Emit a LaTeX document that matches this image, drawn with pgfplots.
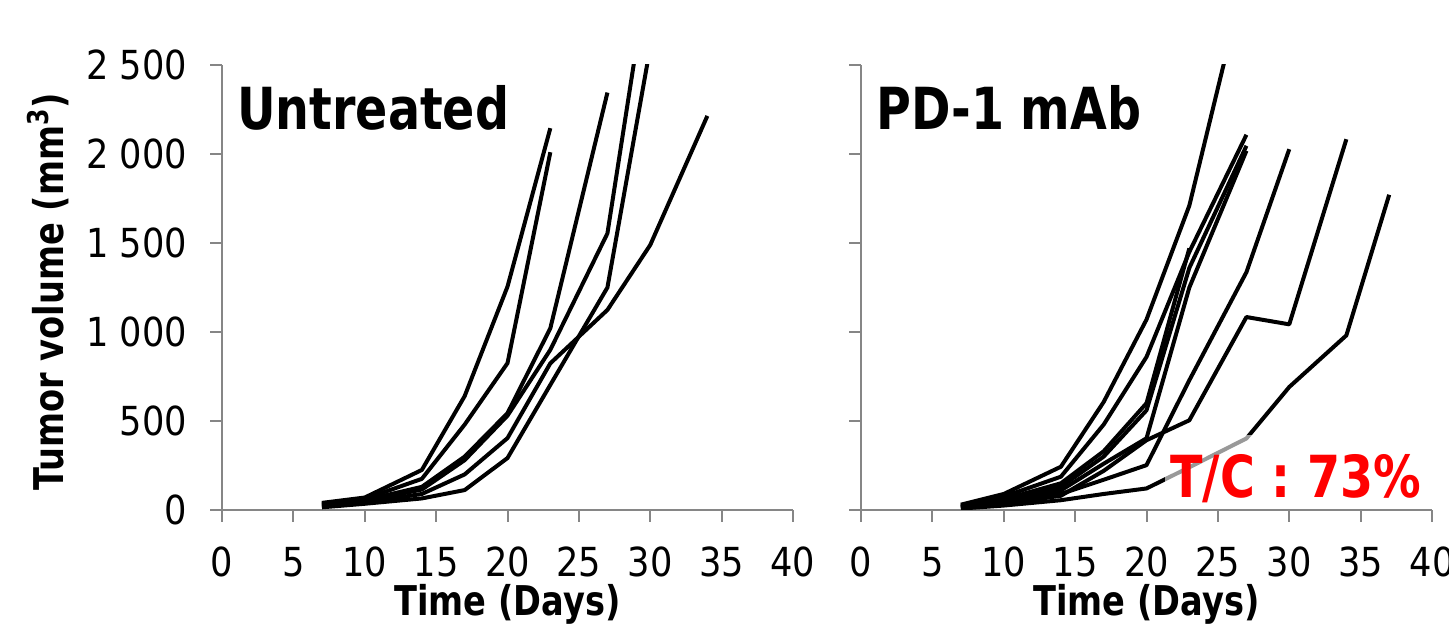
\documentclass[border=0pt]{standalone}
\usepackage{fontspec}
\setmainfont{DejaVu Sans}[FakeStretch=0.88, BoldFeatures={FakeStretch=0.82}]
\usepackage{pgfplots}
\pgfplotsset{compat=1.18}
\definecolor{axgray}{RGB}{134,134,134}
\definecolor{tcred}{RGB}{255,0,0}
\pgfplotsset{
  tumor/.style={
    scale only axis, width=285.5pt, height=222.5pt,
    xmin=0, xmax=40, ymin=0, ymax=2500,
    xtick={0,5,...,40}, ytick={0,500,...,2500},
    axis x line*=bottom, axis y line*=left,
    axis line style={-, axgray, line width=1pt},
    tick align=outside, major tick length=6pt,
    every tick/.style={axgray, line width=1pt},
    tick label style={font=\fontsize{20}{24}\selectfont, black},
    /pgf/number format/assume math mode=true,
    /pgf/number format/1000 sep={\ },
    scaled y ticks=false,
    xticklabel style={yshift=-9pt},
    yticklabel style={xshift=-8pt},
    xlabel={Time (Days)},
    xlabel style={font=\bfseries\fontsize{20.5}{24}\selectfont, at={(axis description cs:0.5,-0.212)}, anchor=center},
    cycle list={{black, solid}},
    every axis plot post/.append style={black, solid, line width=2pt, mark=none, line join=round},
  }
}
\begin{document}
\begin{tikzpicture}
\path[use as bounding box] (0,0) rectangle (724.5pt,315.5pt);
\begin{axis}[tumor, at={(111pt,60.5pt)}, anchor=south west,
  ylabel={Tumor volume (mm\textsuperscript{3})},
  ylabel style={font=\bfseries\fontsize{20.5}{24}\selectfont, at={(axis description cs:-0.304,0.49)}, anchor=center}]
\addplot coordinates {(7,40)(10,70)(14,225)(17,640)(20,1255)(23,2145)};
\addplot coordinates {(7,35)(10,62)(14,175)(17,480)(20,825)(23,2010)};
\addplot coordinates {(7,30)(10,55)(14,130)(17,300)(20,544)(23,1021)(27,2345)};
\addplot coordinates {(7,28)(10,50)(14,115)(17,280)(20,530)(23,900)(27,1554)(30,3100)};
\addplot coordinates {(7,15)(10,35)(14,65)(17,112)(20,292)(23,703)(27,1250)(30,2600)};
\addplot coordinates {(7,22)(10,42)(14,90)(17,200)(20,404)(23,824)(27,1124)(30,1489)(34,2214)};
\node[anchor=base west, inner sep=0pt, font=\bfseries\fontsize{29}{32}\selectfont] at (rel axis cs:0.026,0.854) {Untreated};
\end{axis}
\begin{axis}[tumor, at={(430.5pt,60.5pt)}, anchor=south west, yticklabels={}]
\addplot coordinates {(7,30)(10,90)(14,243)(17,607)(20,1070)(23,1710)(27,3030)};
\addplot coordinates {(7,25)(10,75)(14,187)(17,480)(20,860)(23,1450)(27,2108)};
\addplot coordinates {(7,20)(10,60)(14,150)(17,330)(20,600)(23,1470)};
\addplot coordinates {(7,18)(10,55)(14,130)(17,300)(20,560)(23,1360)(27,2046)};
\addplot coordinates {(7,15)(10,50)(14,110)(17,260)(20,403)(23,1250)(27,2018)};
\addplot coordinates {(7,12)(10,40)(14,90)(17,170)(20,252)(23,729)(27,1336)(30,2027)};
\addplot coordinates {(7,12)(10,35)(14,80)(17,220)(20,392)(23,504)(27,1084)(30,1043)(34,2083)};
\addplot coordinates {(7,8)(10,25)(14,55)(17,90)(20,121)(23,240)(27,402)(30,691)(34,981)(37,1771)};
\node[anchor=base west, inner sep=0pt, font=\bfseries\fontsize{29}{32}\selectfont] at (rel axis cs:0.026,0.854) {PD-1 mAb};
\node[anchor=base east, inner xsep=2.5pt, inner ysep=0pt, text height=31pt, text depth=3pt, fill=white, fill opacity=0.6, text opacity=1, text=tcred, font=\bfseries\fontsize{29}{32}\selectfont] at (rel axis cs:0.99,0.029) {T/C : 73\%};
\end{axis}
\end{tikzpicture}
\end{document}
